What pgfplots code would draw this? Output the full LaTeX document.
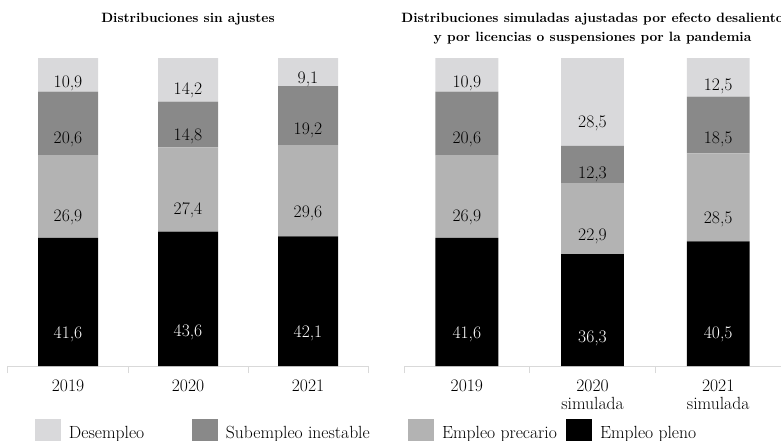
\documentclass[border=0pt]{standalone}
\usepackage{pgfplots}
\pgfplotsset{compat=1.18}

\definecolor{desemp}{RGB}{217,217,219}
\definecolor{subemp}{RGB}{137,137,137}
\definecolor{precar}{RGB}{179,179,179}
\definecolor{ejegris}{RGB}{217,217,217}

\newcommand{\fs}{\fontsize{17.6}{17.7}\selectfont}
% titulo en 10pt escalado (evita el cambio de diseño optico)
\newcommand{\ft}{\fontsize{10}{14.07}\bfseries\selectfont}

\pgfplotsset{
  panel/.style={
    ybar stacked, bar width=0.5,
    scale only axis, height=308pt,
    ymin=0, ymax=100, xmin=-0.5, xmax=2.5,
    axis y line=none, axis x line*=bottom,
    x axis line style={ejegris, line width=1pt, -},
    xtick={0,1,2}, major tick length=0pt,
    minor xtick={-0.5,0.5,1.5,2.5}, minor tick length=7pt,
    tick align=outside,
    minor tick style={ejegris, line width=1pt},
    xticklabel style={font=\fs, align=center, anchor=north, inner sep=0pt, yshift=-14pt},
    title style={font=\ft, align=center, anchor=north, inner sep=0pt,
      scale=1.35, transform shape, at={(0.5,1.1282)}},
    nodes near coords,
    /pgf/number format/.cd, use comma, fixed, fixed zerofill, precision=1, assume math mode=true,
    /pgfplots/.cd,
    visualization depends on={rawy \as \segval},
    every node near coord/.append style={font=\fs, anchor=center, yshift={-0.77pt*\segval}},
    legend image code/.code={\fill[##1] (0pt,-9pt) rectangle (26pt,17pt);},
  },
}

\begin{document}
\begin{tikzpicture}[x=1pt,y=1pt]

% panel izquierdo
\begin{axis}[panel, width=360pt, at={(8pt,74pt)}, anchor=south west,
  title={Distribuciones sin ajustes},
  xticklabels={2019,2020,2021},
  reverse legend,
  legend columns=4,
  legend cell align=left,
  legend style={at={(0.075,-0.17208)}, anchor=north west, draw=none, fill=none,
    inner sep=0pt, outer sep=0pt, font=\fs, nodes={inner sep=0pt, yshift=3pt},
    /tikz/every odd column/.append style={column sep=8pt}},
]
\addplot[fill=black, draw=none, every node near coord/.append style={text=white}]
  coordinates {(0,41.6) (1,43.6) (2,42.1)};
\addplot[fill=precar, draw=none] coordinates {(0,26.9) (1,27.4) (2,29.6)};
\addplot[fill=subemp, draw=none] coordinates {(0,20.6) (1,14.8) (2,19.2)};
\addplot[fill=desemp, draw=none] coordinates {(0,10.9) (1,14.2) (2,9.1)};
\legend{Empleo pleno,
  \makebox[124pt][l]{Empleo precario},
  \makebox[182pt][l]{Subempleo inestable},
  \makebox[123pt][l]{Desempleo}}
\end{axis}

% panel derecho
\begin{axis}[panel, width=377pt, at={(404pt,74pt)}, anchor=south west,
  title={Distribuciones simuladas ajustadas por efecto desaliento\\y por licencias o suspensiones por la pandemia},
  xticklabels={2019,{2020\\simulada},{2021\\simulada}},
]
\addplot[fill=black, draw=none, every node near coord/.append style={text=white}]
  coordinates {(0,41.6) (1,36.3) (2,40.5)};
\addplot[fill=precar, draw=none] coordinates {(0,26.9) (1,22.9) (2,28.5)};
\addplot[fill=subemp, draw=none] coordinates {(0,20.6) (1,12.3) (2,18.5)};
\addplot[fill=desemp, draw=none] coordinates {(0,10.9) (1,28.5) (2,12.5)};
\end{axis}

\pgfresetboundingbox
\path[use as bounding box] (0,0) rectangle (781pt,440pt);
\end{tikzpicture}
\end{document}
